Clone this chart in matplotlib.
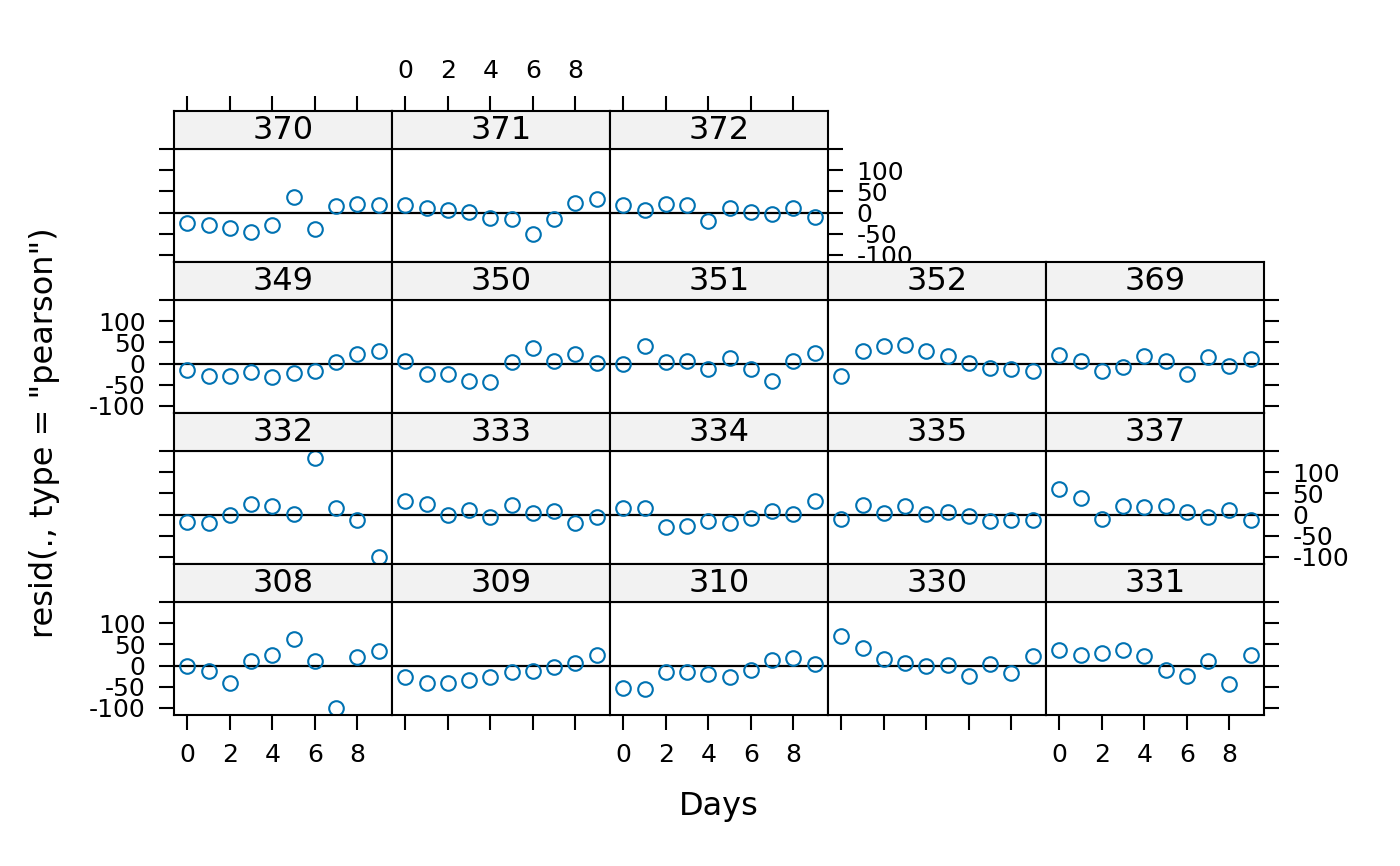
import matplotlib
matplotlib.use("Agg")
import matplotlib.pyplot as plt
import numpy as np

plt.rcParams['font.family'] = ['DejaVu Sans']

days = list(range(10))

# Pearson residuals per subject
r308 = [-1.6, -11.9, -40.5, 11, 25.4, 63.5, 11, -100.8, 19, 35]
r309 = [-27.8, -42, -40.5, -33.3, -26.2, -14.3, -11.9, -4, 7.1, 23.8]
r310 = [-52.4, -55.6, -15.9, -15.9, -19, -26.2, -10.3, 11.9, 16.7, 4]
r330 = [70.6, 40.5, 15, 6.3, -1.6, 0.8, -25.4, 3.2, -18.3, 21.4]
r331 = [37.3, 23.8, 29.4, 37.3, 22.2, -10.3, -24.6, 9.5, -42.9, 24.6]
r332 = [-16.7, -20.6, -1.6, 23.8, 19.8, 1.6, 134, 15, -13.5, -100.8]
r333 = [32.5, 24.6, -0.8, 11, -5.6, 23, 4, 8.7, -19.8, -4.8]
r334 = [15, 15, -28.6, -27.8, -15.2, -20.8, -8.8, 7.2, 0.8, 32]
r335 = [-10.4, 22.4, 3.2, 20, 1.6, 5.6, -3.2, -14.4, -13.6, -12]
r337 = [60.8, 39.2, -9.6, 20.8, 17.6, 19.2, 6.4, -4.8, 10.4, -12.8]
r349 = [-15, -29, -28.6, -20.6, -32.5, -21.4, -18.3, 2.4, 21.4, 29.4]
r350 = [5.6, -23.8, -26, -41, -43.7, 3.2, 37.3, 5.6, 21.4, 0.8]
r351 = [-0.8, 40.5, 2.4, 5.6, -12.7, 13.5, -12, -41, 5.6, 23.8]
r352 = [-29.4, 30, 41, 44.4, 29.4, 16.7, 0.8, -11, -12.7, -17.5]
r369 = [20.6, 5.6, -18.3, -8.7, 16.7, 7, -24.6, 15, -5.6, 9.5]
r370 = [-26, -28.6, -35.7, -46, -30, 35.7, -39.7, 15.9, 20.6, 17.5]
r371 = [18.3, 11, 7, 1.6, -12, -16, -50, -14.3, 23, 31]
r372 = [18.3, 7, 20, 18.3, -19, 11, 1.6, -4, 9.5, -10]

# panel layout, top row first
layout_rows = [
    [("370", r370), ("371", r371), ("372", r372)],
    [("349", r349), ("350", r350), ("351", r351), ("352", r352), ("369", r369)],
    [("332", r332), ("333", r333), ("334", r334), ("335", r335), ("337", r337)],
    [("308", r308), ("309", r309), ("310", r310), ("330", r330), ("331", r331)],
]

xticks = [0, 2, 4, 6, 8]
yticks = [-100, -50, 0, 50, 100, 150]
yticklabels = ["-100", "-50", "0", "50", "100", ""]

allvals = np.concatenate([np.array(v) for row in layout_rows for _, v in row])
ymin, ymax = allvals.min(), allvals.max()
ypad = 0.07 * (ymax - ymin)
ylim = (ymin - ypad, ymax + ypad)
xpad = 0.07 * (max(days) - min(days))
xlim = (min(days) - xpad, max(days) + xpad)

W, H = 1400, 866
fig = plt.figure(figsize=(W / 100, H / 100), dpi=100)

x0, pw = 174, 218
y0, rh, sh = 111, 151, 38
col = "#0072B2"
tick_kw = dict(direction="out", length=10.5, width=1.5, pad=10, labelsize=18, color="black")

ncols_total = 5
nrows = len(layout_rows)

def rect(left, top, w, h):
    return [left / W, (H - top - h) / H, w / W, h / H]

for ri, row in enumerate(layout_rows):
    top = y0 + ri * rh
    ncol = len(row)
    for ci, (name, vals) in enumerate(row):
        left = x0 + ci * pw
        ax = fig.add_axes(rect(left, top + sh, pw, rh - sh))
        ax.plot(days, vals, linestyle="none", marker="o", markersize=10.5,
                markerfacecolor="none", markeredgecolor=col, markeredgewidth=1.5)
        ax.axhline(0, color="black", lw=1.6, zorder=1)
        ax.set_xlim(xlim)
        ax.set_ylim(ylim)
        for s in ax.spines.values():
            s.set_linewidth(1.5)
        ax.tick_params(**tick_kw)
        # x axis (bottom row only)
        if ri == nrows - 1:
            ax.set_xticks(xticks)
            if ci % 2 == 0:
                ax.set_xticklabels([str(t) for t in xticks])
            else:
                ax.set_xticklabels([])
        else:
            ax.set_xticks([])
        # y axis
        ax.set_yticks(yticks)
        left_on = ci == 0
        right_on = ci == ncol - 1
        ax.tick_params(axis="y", left=left_on, right=right_on,
                       labelleft=left_on and ri % 2 == 1,
                       labelright=right_on and ri % 2 == 0)
        ax.set_yticklabels(yticklabels)

        # strip
        sax = fig.add_axes(rect(left, top, pw, sh))
        sax.set_facecolor("#F2F2F2")
        sax.set_xlim(xlim)
        sax.set_ylim(0, 1)
        sax.set_yticks([])
        for s in sax.spines.values():
            s.set_linewidth(1.5)
        sax.text(0.5, 0.48, name, transform=sax.transAxes, ha="center", va="center",
                 fontsize=23)
        if ri == 0:
            sax.set_xticks(xticks)
            sax.tick_params(**tick_kw)
            sax.tick_params(axis="x", bottom=False, labelbottom=False, top=True,
                            labeltop=(ci % 2 == 1))
        else:
            sax.set_xticks([])

fig.text((x0 + x0 + ncols_total * pw) / 2 / W, 1 - 806 / H, "Days",
         ha="center", va="center", fontsize=23)
fig.text(45 / W, 0.5, 'resid(., type = "pearson")', rotation=90,
         ha="center", va="center", fontsize=23)

fig.savefig("out.png", dpi=100)
